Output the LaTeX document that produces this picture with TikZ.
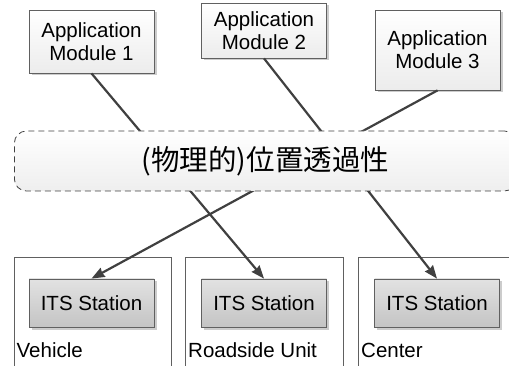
\documentclass[tikz,border=0pt]{standalone}
\usepackage{fontspec}
\setmainfont{Liberation Sans}
\newfontfamily\jpfont{Noto Sans CJK JP}
\usetikzlibrary{positioning,arrows.meta,shadows}
\definecolor{Cborda}{RGB}{96,96,96}
\definecolor{Clinha}{RGB}{64,64,64}
\definecolor{Capp}{RGB}{236,236,236}
\definecolor{Cstaclaro}{RGB}{226,226,226}
\definecolor{Cstaescuro}{RGB}{196,196,196}
\definecolor{Cnuvem}{RGB}{238,238,238}

\begin{document}
\begin{tikzpicture}[x=1pt, y=-1pt,
    appbox/.style={draw=Cborda, line width=0.8pt, top color=white, bottom color=Capp,
      minimum width=125pt, inner sep=0pt, align=center,
      font=\fontsize{20.5}{23}\selectfont,
      drop shadow={shadow xshift=2.5pt, shadow yshift=-2.5pt, fill=black!40, opacity=0.5}},
    stabox/.style={draw=Cborda, line width=0.8pt, top color=Cstaclaro, bottom color=Cstaescuro,
      minimum width=125pt, minimum height=48pt, inner sep=0pt,
      font=\fontsize{20.5}{23}\selectfont,
      drop shadow={shadow xshift=2.5pt, shadow yshift=-2.5pt, fill=black!40, opacity=0.5}},
    sitebox/.style={draw=Cborda, line width=0.7pt, anchor=north west, minimum height=150pt, inner sep=0pt},
    sitelabel/.style={anchor=base west, inner sep=0pt, font=\fontsize{20.5}{23}\selectfont},
    link/.style={draw=Clinha, line width=2.2pt, -{Stealth[length=13pt, width=10pt, inset=1pt]}}]
  \useasboundingbox (0,0) rectangle (509,366);

  % modulos de aplicacao
  \node[appbox, minimum height=63pt] (app1) at (91.5,41.5) {Application\\Module 1};
  \node[appbox, minimum height=55pt] (app2) at (264,30.5) {Application\\Module 2};
  \node[appbox, minimum height=80pt] (app3) at (437.5,50) {Application\\Module 3};

  % locais (caixas abertas embaixo)
  \node[sitebox, minimum width=157pt] (veh) at (14,257) {};
  \node[sitebox, minimum width=158pt] (rsu) at (185,257) {};
  \node[sitebox, minimum width=170pt] (ctr) at (358,257) {};
  \node[sitelabel] (vehtxt) at (16.5,357) {Vehicle};
  \node[sitelabel] (rsutxt) at (188,357) {Roadside Unit};
  \node[sitelabel] (ctrtxt) at (361,357) {Center};

  % estacoes ITS
  \node[stabox] (sta1) at (91.5,303) {ITS Station};
  \node[stabox] (sta2) at (264,303) {ITS Station};
  \node[stabox] (sta3) at (437,303) {ITS Station};

  % ligacoes cruzadas
  \draw[link] (app1.south) -- (sta2.north);
  \draw[link] (app2.south) -- (sta3.north);
  \draw[link] (app3.south) -- (sta1.north);

  % camada tracejada por cima das linhas
  \node[draw=Clinha, dash pattern=on 6pt off 4pt, line width=0.8pt,
    rounded corners=12pt, top color=white, bottom color=Cnuvem,
    minimum width=502pt, minimum height=60pt, anchor=west,
    font=\jpfont\fontsize{28.5}{32}\selectfont] (transp) at (14,161)
    {(物理的)位置透過性};
\end{tikzpicture}
\end{document}
